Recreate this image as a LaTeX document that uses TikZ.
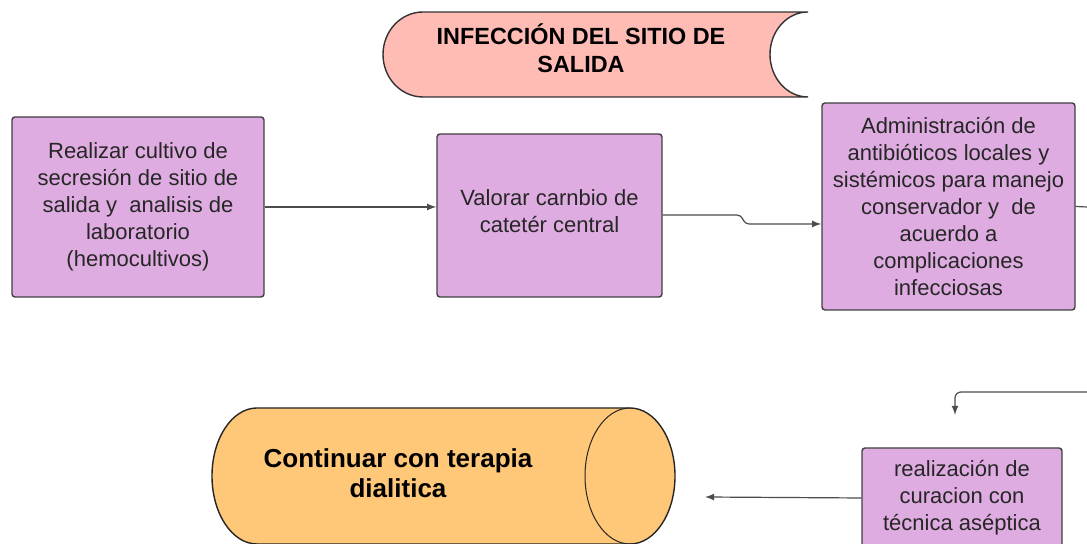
\documentclass[tikz,border=0pt]{standalone}
\usepackage{fontspec}
\setmainfont{Liberation Sans}
\usepackage{tikz}
\usetikzlibrary{shapes,arrows}
\definecolor{boxfill}{RGB}{222,172,224}
\definecolor{titlefill}{RGB}{255,188,180}
\definecolor{cylfill}{RGB}{255,199,120}

\begin{document}
\begin{tikzpicture}[x=0.5pt,y=0.5pt,
                   paso/.style={draw=black!75,fill=boxfill,line width=0.7pt,rounded corners=1.5pt,align=center,
                   inner sep=0pt,font=\fontsize{11}{13.5}\selectfont,text=black!85},
                   flecha/.style={draw=black!70,line width=0.6pt,-latex}]
\useasboundingbox (0,0) rectangle (1087,544);
\draw[draw=black!80,fill=titlefill,line width=0.7pt] (808,532) -- (423,532) arc[start angle=90,end angle=270,x radius=40,y radius=42.5]
  -- (808,447) arc[start angle=270,end angle=90,x radius=38,y radius=42.5] -- cycle;
\node[align=center,font=\fontsize{11.7}{14}\selectfont\bfseries] (inicio) at (581,496) {INFECCIÓN DEL SITIO DE\\SALIDA};
\node[paso,minimum width=126pt,minimum height=90pt] (cultivo) at (138,337) {Realizar cultivo de\\secresión de sitio de\\salida y\ \ analisis de\\laboratorio\\(hemocultivos)};
\node[paso,minimum width=112.5pt,minimum height=81.5pt] (cambio) at (549.5,328.5) {Valorar carnbio de\\catetér central\\[-9pt]};
\node[paso,minimum width=126.5pt,minimum height=103.5pt] (antib) at (948.5,337.5) {Administración de\\antibióticos locales y\\sistémicos para manejo\\conservador y\ \ de\\acuerdo a\\complicaciones\\infecciosas};
\node[paso,minimum width=100pt,minimum height=50pt] (curacion) at (962,46) {realización de\\curacion con\\técnica aséptica};
\draw[draw=black!85,fill=cylfill,line width=0.7pt] (630,136) -- (257,136) arc[start angle=90,end angle=270,x radius=45,y radius=68]
  -- (630,0) arc[start angle=-90,end angle=90,x radius=45,y radius=68] -- cycle;
\draw[draw=black!85,line width=0.5pt] (630,136) arc[start angle=90,end angle=270,x radius=45,y radius=68];
\node[align=center,font=\fontsize{13}{15}\selectfont\bfseries] (terapia) at (398,71) {Continuar con terapia\\dialitica};
\coordinate (j1) at (741,329);
\coordinate (j2) at (745,320);
\coordinate (d1) at (1087,337);
\coordinate (d2) at (1087,152);
\coordinate (d3) at (955,152);
\coordinate (d4) at (955,129);
\coordinate (d5) at (705,47);
\draw[flecha] (cultivo.east) -- (cultivo.east -| cambio.west);
\draw[flecha,rounded corners=2pt] (cambio.east |- j1) -- (j1) -- (j2) -- (j2 -| antib.west);
\draw[flecha,-] (antib.east) -- (d1);
\draw[flecha,rounded corners=3pt] (d2) -- (d3) -- (d4);
\draw[flecha] (curacion.west) -- (d5);
\end{tikzpicture}
\end{document}
